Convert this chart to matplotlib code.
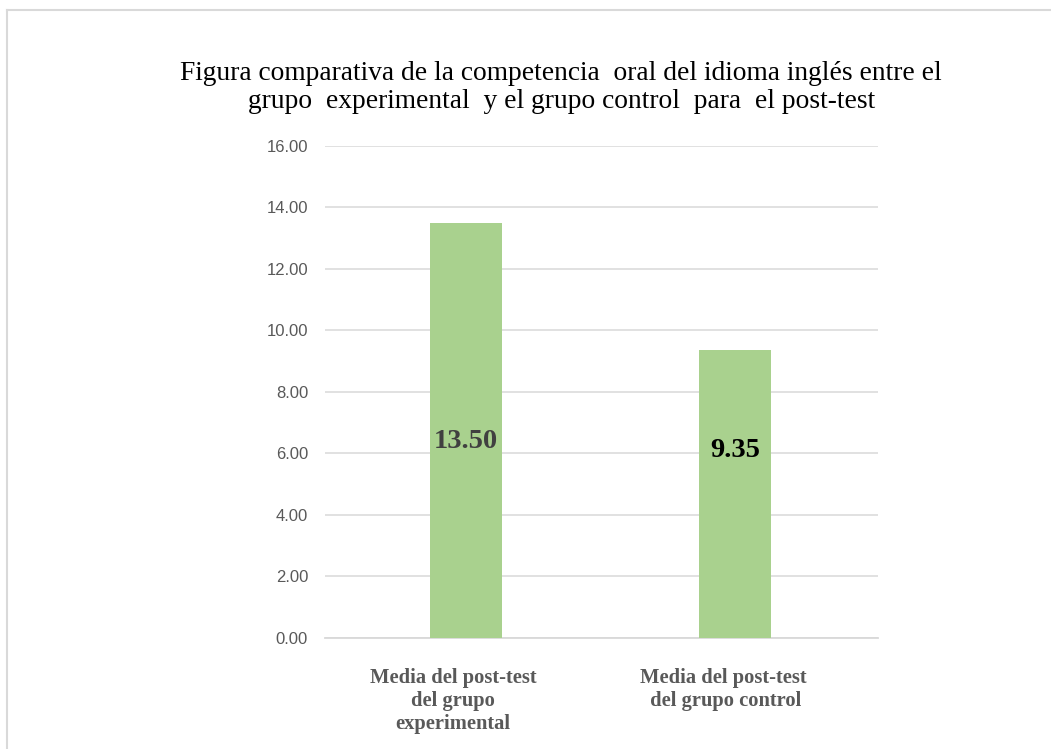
import matplotlib.pyplot as plt
from matplotlib.lines import Line2D

# Data
categories = ["Media del post-test\ndel grupo\nexperimental", "Media del post-test\n del grupo control"]
means = [13.50, 9.35]
labels = ["13.50", "9.35"]
labelY = [6.4, 6.1]
labelColors = ["#404040", "#000000"]
catX = [-0.048, 0.957]
yticks = [0, 2, 4, 6, 8, 10, 12, 14, 16]

title = ("Figura comparativa de la competencia  oral del idioma inglés entre el\n"
         "grupo  experimental  y el grupo control  para  el post-test")

fig = plt.figure(figsize=(10.51, 7.49), dpi=100)
ax = fig.add_axes([0.309, 0.1482, 0.526, 0.657])

x = list(range(len(categories)))
ax.bar(x, means, width=0.268, color="#a9d18e", zorder=3)

# value labels inside the bars
for i in range(len(means)):
	ax.text(x[i], labelY[i], labels[i], ha="center", va="center",
	        family="Liberation Serif", fontweight="bold", fontsize=20.5,
	        color=labelColors[i], zorder=4)

# category labels under the axis
for i in range(len(categories)):
	ax.text(catX[i], -0.06, categories[i], ha="center", va="top",
	        transform=ax.get_xaxis_transform(), family="Liberation Serif",
	        fontweight="bold", fontsize=14.8, color="#595959", linespacing=1.22)

ax.set_xlim(-0.526, 1.53)
ax.set_ylim(0, 16)
ax.set_yticks(yticks)
ax.set_yticklabels(["%.2f" % v for v in yticks], family="Liberation Sans",
                   fontsize=12, color="#595959")
ax.set_xticks([])
ax.tick_params(axis="y", length=0, pad=12)

ax.grid(axis="y", color="#d9d9d9", linewidth=1.1, zorder=0)
for s in ["top", "right", "left"]:
	ax.spines[s].set_visible(False)
ax.spines["bottom"].set_color("#d9d9d9")
ax.spines["bottom"].set_linewidth(1.3)

fig.text(0.534, 0.919, title, ha="center", va="top", family="Liberation Serif",
         fontsize=19.8, color="#000000", linespacing=1.2)

# outer chart frame (cut by the image edges)
fig.add_artist(Line2D([0.0065, 1.0], [0.986, 0.986], color="#d9d9d9", linewidth=1.5))
fig.add_artist(Line2D([0.0065, 0.0065], [0.0, 0.986], color="#d9d9d9", linewidth=1.5))

fig.savefig("out.png", dpi=100)
